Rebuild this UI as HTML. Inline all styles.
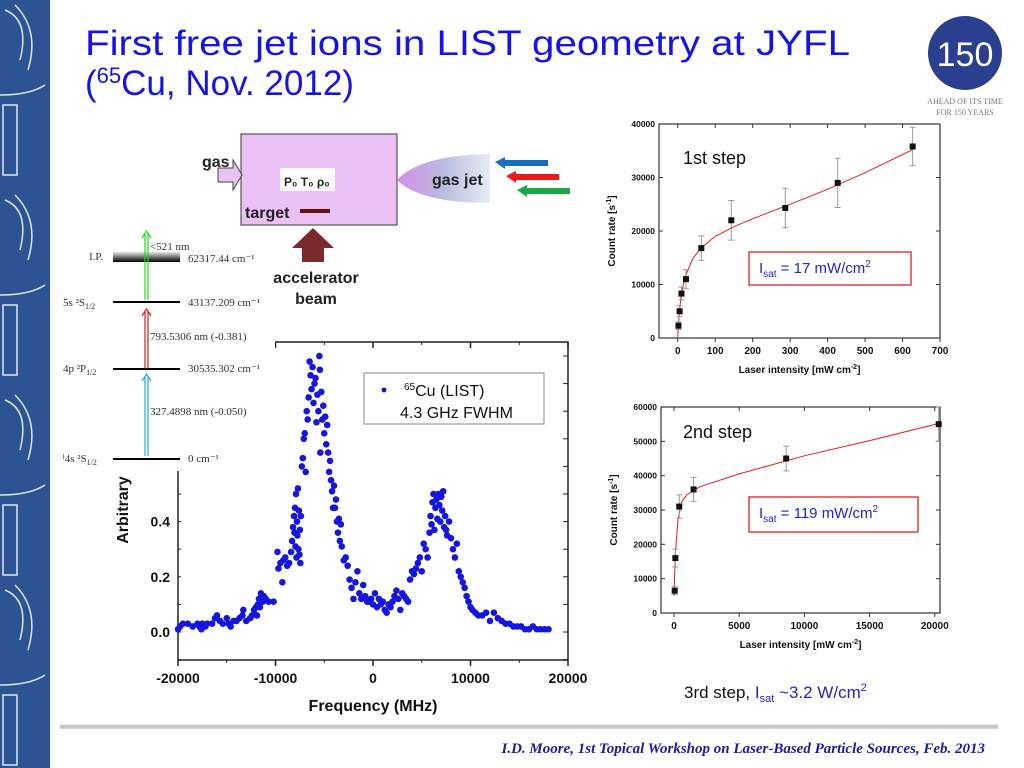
<!DOCTYPE html>
<html><head><meta charset="utf-8"><style>
html,body{margin:0;padding:0;background:#fff;}
svg{display:block;}
text{font-family:"Liberation Sans",sans-serif;}
.serif{font-family:"Liberation Serif",serif;}
</style></head><body>
<svg id="s" width="1024" height="768" viewBox="0 0 1024 768" xmlns="http://www.w3.org/2000/svg">
<defs>
<linearGradient id="ipg" x1="0" y1="0" x2="0" y2="1"><stop offset="0" stop-color="#fff"/><stop offset="1" stop-color="#000"/></linearGradient>
<linearGradient id="jetg" x1="0" y1="0" x2="1" y2="0"><stop offset="0" stop-color="#d68ce8"/><stop offset="0.5" stop-color="#b8bde0"/><stop offset="1" stop-color="#e8ecf6"/></linearGradient>
<linearGradient id="barg" x1="0" y1="0" x2="0" y2="1"><stop offset="0" stop-color="#eee"/><stop offset="0.5" stop-color="#bbb"/><stop offset="1" stop-color="#ddd"/></linearGradient>
</defs>
<g>
<rect x="0" y="0" width="50" height="768" fill="#2c5394"/>
<g fill="none" stroke="#dfe6f2" stroke-width="1.5">
<path d="M5 10 Q30 20 20 60 M15 5 Q40 30 28 70 M0 95 Q30 95 45 85"/><rect x="3" y="105" width="14" height="70"/>
<path d="M5 200 Q30 210 20 250 M15 195 Q40 220 28 260 M0 295 Q30 295 45 285"/><rect x="3" y="305" width="14" height="70"/>
<path d="M5 400 Q30 410 20 450 M15 395 Q40 420 28 460 M0 495 Q30 495 45 485"/><rect x="3" y="505" width="14" height="70"/>
<path d="M5 590 Q30 600 20 640 M15 585 Q40 610 28 650 M0 685 Q30 685 45 675"/><rect x="3" y="695" width="14" height="70"/>
</g></g>
<text x="85" y="55" font-size="35" fill="#1414e6" textLength="765" lengthAdjust="spacingAndGlyphs">First free jet ions in LIST geometry at JYFL</text>
<text x="85" y="95" font-size="35" fill="#1414e6">(<tspan font-size="22" dy="-12">65</tspan><tspan dy="12">Cu, Nov. 2012)</tspan></text>
<g>
<circle cx="965" cy="53" r="37" fill="#2a3f8f"/>
<text x="965" y="66" font-size="34" fill="#fff" text-anchor="middle">150</text>
<text x="965" y="104" font-size="8" fill="#777" text-anchor="middle" class="serif">AHEAD OF ITS TIME</text>
<text x="965" y="115" font-size="8" fill="#777" text-anchor="middle" class="serif">FOR 150 YEARS</text>
</g>
<g id="main"></g>
<g>
<rect x="55" y="228" width="220" height="243" fill="#fff"/>
<rect x="113" y="251" width="67" height="11" fill="url(#ipg)"/>
<line x1="113" y1="302" x2="180" y2="302" stroke="#000" stroke-width="2"/>
<line x1="113" y1="369" x2="180" y2="369" stroke="#000" stroke-width="2"/>
<line x1="113" y1="459" x2="180" y2="459" stroke="#000" stroke-width="2"/>
<g stroke-width="1.2" fill="none">
<path d="M145 300 V234 M148 300 V234 M142 238 L146.5 231 L151 238" stroke="#22dd22"/>
<path d="M145 368 V312 M148 368 V312 M142 316 L146.5 309 L151 316" stroke="#e01818"/>
<path d="M145 456 V377 M148 456 V377 M142 381 L146.5 374 L151 381" stroke="#22aadd"/>
</g>
<g class="serif" font-size="11" fill="#333">
<text x="89" y="260" class="serif">I.P.</text>
<text x="150" y="250" class="serif">&lt;521 nm</text>
<text x="188" y="262" class="serif">62317.44 cm⁻¹</text>
<text x="63" y="306" class="serif">5s ²S<tspan font-size="8" dy="3">1/2</tspan></text>
<text x="188" y="306" class="serif">43137.209 cm⁻¹</text>
<text x="150" y="340" class="serif">793.5306 nm (-0.381)</text>
<text x="63" y="372" class="serif">4p ²P<tspan font-size="8" dy="3">1/2</tspan></text>
<text x="188" y="372" class="serif">30535.302 cm⁻¹</text>
<text x="150" y="415" class="serif">327.4898 nm (-0.050)</text>
<text x="62" y="462" class="serif">⁾4s ²S<tspan font-size="8" dy="3">1/2</tspan></text>
<text x="188" y="462" class="serif">0 cm⁻¹</text>
</g></g>
<g>
<rect x="241" y="134" width="156" height="91" fill="#ebc0f5" stroke="#555" stroke-width="1.2"/>
<path d="M218 168 H233 V160 L242 175 L233 190 V182 H218 Z" fill="#ebc0f5" stroke="#444"/>
<text x="202" y="167" font-size="16" font-weight="bold" fill="#222">gas</text>
<rect x="280" y="168" width="55" height="23" fill="#fff"/>
<text x="284" y="186" font-size="12" font-weight="bold" fill="#222">P₀ T₀ ρ₀</text>
<text x="245" y="218" font-size="16" font-weight="bold" fill="#222">target</text>
<rect x="300" y="209" width="30" height="4" fill="#6b1010"/>
<path d="M397 180 Q420 155 490 154 V203 Q420 203 397 180 Z" fill="url(#jetg)"/>
<text x="432" y="185" font-size="16" font-weight="bold" fill="#222">gas jet</text>
<path d="M495 162 L505 157 V160 H548 V166 H505 V169 Z" fill="#1a6ec0"/>
<path d="M506 176 L516 171 V174 H559 V180 H516 V183 Z" fill="#ee1a1a"/>
<path d="M517 190 L527 185 V188 H570 V194 H527 V197 Z" fill="#18a848"/>
<path d="M302 262 V248 H292 L313 228 L334 248 H324 V262 Z" fill="#7a2a2a"/>
<text x="316" y="283" font-size="16" font-weight="bold" fill="#222" text-anchor="middle">accelerator</text>
<text x="316" y="304" font-size="16" font-weight="bold" fill="#222" text-anchor="middle">beam</text>
</g>
<g id="c1"></g>
<g id="c2"></g>
<text x="684" y="698" font-size="17" fill="#111">3rd step, <tspan fill="#2222cc">I<tspan font-size="11" dy="4">sat</tspan><tspan dy="-4"> ~3.2 W/cm</tspan><tspan font-size="11" dy="-7">2</tspan></tspan></text>
<rect x="60" y="724" width="938" height="5" fill="url(#barg)"/>
<text x="985" y="753" font-size="15" font-style="italic" font-weight="bold" fill="#1a1aa8" text-anchor="end" class="serif">I.D. Moore, 1st Topical Workshop on Laser-Based Particle Sources, Feb. 2013</text>
</svg>
<script>
const specFreq = [-20000,-19800,-19500,-19000,-18500,-18000,-17800,-17600,-17500,-17400,-17200,-17000,-16500,-16200,-16000,-15700,-15400,-15000,-14800,-14600,-14300,-14000,-13700,-13400,-13300,-13000,-12600,-12400,-12200,-12000,-11900,-11800,-11700,-11600,-11500,-11300,-11200,-11000,-10700,-10200,-9800,-9700,-9500,-9300,-9200,-9000,-8800,-8600,-8400,-8300,-8200,-8100,-8050,-8000,-7950,-7900,-7850,-7800,-7750,-7700,-7650,-7600,-7550,-7500,-7450,-7400,-7300,-7200,-7100,-7000,-6900,-6800,-6700,-6600,-6500,-6400,-6300,-6200,-6100,-6000,-5900,-5800,-5700,-5600,-5500,-5450,-5400,-5300,-5200,-5100,-5000,-4900,-4800,-4700,-4600,-4500,-4400,-4300,-4200,-4100,-4000,-3900,-3800,-3700,-3600,-3500,-3400,-3300,-3200,-3000,-2800,-2600,-2400,-2200,-2000,-1800,-1600,-1400,-1200,-1000,-800,-600,-400,-200,0,200,400,600,800,1000,1200,1400,1600,1800,2000,2200,2400,2600,2800,3000,3200,3400,3600,3800,4000,4200,4400,4600,4800,5000,5200,5400,5600,5800,5900,6000,6100,6200,6300,6400,6500,6600,6700,6800,6900,7000,7100,7200,7300,7400,7500,7600,7800,8000,8200,8400,8600,8800,9000,9200,9400,9600,9800,10000,10200,10500,10800,11200,11600,12000,12400,12800,13200,13600,14000,14400,14800,15200,15600,16000,16400,16800,17200,17600,18000];
const specVal = [0.01,0.02,0.03,0.03,0.02,0.03,0.02,0.01,0.03,0.02,0.02,0.03,0.03,0.05,0.06,0.04,0.03,0.05,0.03,0.02,0.04,0.04,0.05,0.06,0.08,0.04,0.05,0.06,0.08,0.09,0.06,0.10,0.12,0.09,0.14,0.11,0.13,0.12,0.11,0.11,0.29,0.23,0.25,0.18,0.26,0.27,0.24,0.25,0.29,0.33,0.38,0.42,0.36,0.45,0.31,0.50,0.27,0.40,0.35,0.52,0.30,0.44,0.28,0.37,0.25,0.42,0.60,0.63,0.70,0.72,0.58,0.80,0.77,0.85,0.98,0.93,0.88,0.96,0.83,0.90,0.92,0.76,0.86,0.80,1.00,0.95,0.65,0.87,0.77,0.82,0.72,0.78,0.68,0.75,0.65,0.58,0.62,0.55,0.51,0.45,0.53,0.45,0.48,0.40,0.36,0.41,0.33,0.39,0.31,0.26,0.27,0.24,0.19,0.16,0.12,0.18,0.22,0.14,0.12,0.17,0.13,0.11,0.11,0.12,0.10,0.14,0.09,0.12,0.10,0.11,0.08,0.07,0.10,0.09,0.11,0.13,0.15,0.12,0.08,0.14,0.13,0.12,0.11,0.19,0.22,0.21,0.23,0.25,0.27,0.22,0.32,0.30,0.27,0.36,0.42,0.39,0.47,0.50,0.37,0.45,0.48,0.41,0.50,0.46,0.40,0.49,0.44,0.51,0.38,0.42,0.37,0.35,0.40,0.34,0.30,0.27,0.32,0.22,0.20,0.18,0.16,0.13,0.11,0.09,0.08,0.07,0.06,0.06,0.07,0.04,0.07,0.05,0.04,0.03,0.03,0.02,0.02,0.02,0.01,0.01,0.02,0.01,0.01,0.01,0.01];
const specXTicks = [-20000,-10000,0,10000,20000];
const specYTicks = [0.0,0.2,0.4];
const specYTickLabels = ["0.0","0.2","0.4"];
const s1X = [2,5,10,22,63,143,287,427,627];
const s1Y = [2300,5000,8300,11000,16800,22000,24300,29000,35800];
const s1Err = [700,1000,1200,1800,2300,3700,3700,4600,3600];
const s1FitX = [0,3,6,10,20,40,60,100,150,200,300,400,500,630];
const s1FitY = [0,3800,6000,8400,11500,14800,16700,19000,20800,22300,25000,27800,30900,35300];
const s1XTicks = [0,100,200,300,400,500,600,700];
const s1YTicks = [0,10000,20000,30000,40000];
const s2X = [50,100,400,1500,8600,20300];
const s2Y = [6500,16000,31000,36000,45000,55000];
const s2Err = [1200,2600,3400,3500,3600,5000];
const s2FitX = [0,100,300,600,1000,2000,5000,10000,15000,20300];
const s2FitY = [5000,17000,27000,32500,34500,36800,40500,45800,50200,55200];
const s2XTicks = [0,5000,10000,15000,20000];
const s2YTicks = [0,10000,20000,30000,40000,50000,60000];

const NS = "http://www.w3.org/2000/svg";
function mk(tag, attrs, parent, txt){const e=document.createElementNS(NS,tag);for(const k in attrs)e.setAttribute(k,attrs[k]);if(txt!==undefined)e.textContent=txt;parent.appendChild(e);return e;}

(function(){
const g=document.getElementById('main');
const X=f=>373+f*(195/20000), Y=v=>632-v*276;
const L=178,R=568,T=342,B=660;
mk('rect',{x:L,y:T,width:R-L,height:B-T,fill:'none',stroke:'#222','stroke-width':1.5},g);
specXTicks.forEach((t,i)=>{
  const tk=mk('line',{x1:X(t),x2:X(t),y1:B,y2:B+6,stroke:'#222','stroke-width':1.5},g);
  
  
  mk('line',{x1:X(t),x2:X(t),y1:T,y2:T+6,stroke:'#222','stroke-width':1.5},g);
  const lb=mk('text',{x:X(t),y:B+23,'font-size':14,'font-weight':'bold','text-anchor':'middle',fill:'#111'},g,String(t));
  
  
});
for(let t=-15000;t<=15000;t+=10000){mk('line',{x1:X(t),x2:X(t),y1:B,y2:B+3,stroke:'#222'},g);mk('line',{x1:X(t),x2:X(t),y1:T,y2:T+3,stroke:'#222'},g);}
for(let v=-0.1;v<=1.0;v+=0.1){mk('line',{x1:L,x2:L+3,y1:Y(v),y2:Y(v),stroke:'#222'},g);mk('line',{x1:R,x2:R-5,y1:Y(v),y2:Y(v),stroke:'#222'},g);}
specYTicks.forEach((t,i)=>{
  const lb=mk('text',{x:L-8,y:Y(t)+5,'font-size':14,'font-weight':'bold','text-anchor':'end',fill:'#111'},g,specYTickLabels[i]);
  
  
});
const yt=mk('text',{x:0,y:0,'font-size':16,'font-weight':'bold','text-anchor':'middle',fill:'#111',transform:'translate(128,510) rotate(-90)'},g,'Arbitrary');


const xt=mk('text',{x:373,y:711,'font-size':16,'font-weight':'bold','text-anchor':'middle',fill:'#111'},g,'Frequency (MHz)');


specFreq.forEach((f,i)=>{
  const c=mk('circle',{cx:X(f),cy:Y(specVal[i]),r:3.3,fill:'#1515e0'},g);
  
  
});
const lg=mk('g',{},g);


mk('rect',{x:364,y:373,width:180,height:51,fill:'#fff',stroke:'#888'},lg);
mk('circle',{cx:384,cy:390,r:2.5,fill:'#1515e0'},lg);
const t1=mk('text',{x:404,y:396,'font-size':16,fill:'#111'},lg);
mk('tspan',{'font-size':10,dy:-6},t1,'65');mk('tspan',{dy:6},t1,'Cu (LIST)');
mk('text',{x:400,y:418,'font-size':16,fill:'#111'},lg,'4.3 GHz FWHM');
})();

function smallChart(id,xmin,xmax,ymax,L,R,T,B,xs,ys,es,fx,fy,xticks,yticks,label,title,box){
const g=document.getElementById(id);
const X=v=>L+(v-xmin)/(xmax-xmin)*(R-L), Y=v=>B-v/ymax*(B-T);
mk('rect',{x:L,y:T,width:R-L,height:B-T,fill:'none',stroke:'#333','stroke-width':1.2},g);
xticks.forEach(t=>{mk('line',{x1:X(t),x2:X(t),y1:B,y2:B+4,stroke:'#333'},g);mk('line',{x1:X(t),x2:X(t),y1:T,y2:T+4,stroke:'#333'},g);
  const lb=mk('text',{x:X(t),y:B+16,'font-size':10,'font-weight':'bold','text-anchor':'middle',fill:'#111'},g,String(t));
  
  });
yticks.forEach(t=>{mk('line',{x1:L,x2:L+4,y1:Y(t),y2:Y(t),stroke:'#333'},g);mk('line',{x1:R,x2:R-4,y1:Y(t),y2:Y(t),stroke:'#333'},g);
  const lb=mk('text',{x:L-4,y:Y(t)+3,'font-size':8.5,'font-weight':'bold','text-anchor':'end',fill:'#111'},g,String(t));
  
  });
let d='';fx.forEach((v,i)=>{d+=(i?'L':'M')+X(v).toFixed(1)+' '+Y(fy[i]).toFixed(1);});
const fl=mk('path',{d:d,fill:'none',stroke:'#e02020','stroke-width':1},g);


xs.forEach((v,i)=>{
  mk('path',{d:`M${X(v)} ${Y(ys[i]-es[i])}V${Y(ys[i]+es[i])}M${X(v)-3} ${Y(ys[i]-es[i])}h6M${X(v)-3} ${Y(ys[i]+es[i])}h6`,stroke:'#999',fill:'none'},g);
  const p=mk('rect',{x:X(v)-3,y:Y(ys[i])-3,width:6,height:6,fill:'#111'},g);
  
  
});
const xt=mk('text',{x:(L+R)/2,y:B+35,'font-size':10,'font-weight':'bold','text-anchor':'middle',fill:'#111'},g,'Laser intensity [mW cm');
mk('tspan',{'font-size':7,dy:-4},xt,'-2');mk('tspan',{dy:4},xt,']');


const yt=mk('text',{x:0,y:0,'font-size':10,'font-weight':'bold','text-anchor':'middle',fill:'#111',transform:`translate(${L-44},${(T+B)/2}) rotate(-90)`},g,'Count rate [s');
mk('tspan',{'font-size':7,dy:-4},yt,'-1');mk('tspan',{dy:4},yt,']');


const tt=mk('text',{x:title[0],y:title[1],'font-size':18,fill:'#111'},g,title[2]);


mk('rect',{x:box[0],y:box[1],width:box[2],height:box[3],fill:'#fff',stroke:'#e02020','stroke-width':1.3},g);
const it=mk('text',{x:box[0]+10,y:box[1]+21,'font-size':15,fill:'#2222cc'},g,'I');
mk('tspan',{'font-size':10,dy:4},it,'sat');mk('tspan',{dy:-4},it,label);mk('tspan',{'font-size':10,dy:-6},it,'2');


}
smallChart('c1',-50,700,40000,659,940,124,338,s1X,s1Y,s1Err,s1FitX,s1FitY,s1XTicks,s1YTicks,' = 17 mW/cm',[683,164,'1st step'],[749,252,162,33]);
smallChart('c2',-1000,20400,60000,661,940,407,613,s2X,s2Y,s2Err,s2FitX,s2FitY,s2XTicks,s2YTicks,' = 119 mW/cm',[683,438,'2nd step'],[749,497,169,35]);
</script>
</body></html>
